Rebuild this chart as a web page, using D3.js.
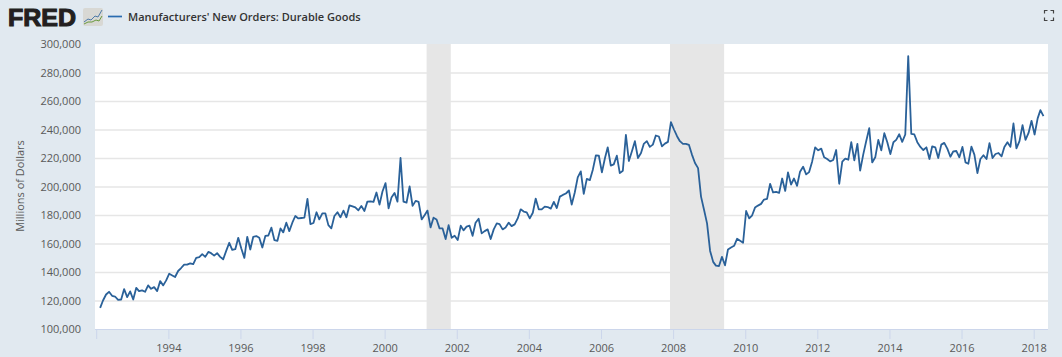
<!DOCTYPE html>
<html lang="en">
<head>
   <meta charset="UTF-8">
   <title>Manufacturers' New Orders: Durable Goods</title>
   <script src="https://cdn.jsdelivr.net/npm/d3@7"></script>
   <style>
      html, body {
         margin: 0;
         padding: 0;
         background: #e1e9f0;
         overflow: hidden;
      }
      text {
         font-family: "Open Sans", sans-serif;
         font-size: 11px;
         fill: #595959;
      }
      .grid line {
         stroke: #e6e6e6;
         stroke-width: 1.5;
      }
      .x-axis .tick line {
         stroke: #ccd6eb;
      }
      .recession {
         fill: #e6e6e6;
      }
      .series {
         fill: none;
         stroke: #2a6199;
         stroke-width: 1.8;
         stroke-linejoin: round;
      }
      .legend-text {
         font-weight: 600;
         fill: #333;
      }
      .logo {
         font-family: "Liberation Sans", sans-serif;
         font-size: 24px;
         font-weight: bold;
         fill: #231f20;
         stroke: #231f20;
         stroke-width: 1.1;
      }
   </style>
</head>
<body>
   <svg id="chart" width="1062" height="357"></svg>
   <script>
      // first month of the series, one value per month after that (millions of dollars)
      const START_MONTH = new Date(1992, 1, 1)
      const orders = [
         114800, 120000, 124200, 126100, 123300, 122800, 120500, 120700, 128000, 122400, 126400,
         120700, 128900, 126600, 127100, 126100, 130600, 128200, 129400, 126600, 133600, 130600, 134100,
         138800, 137600, 136500, 140700, 142800, 145200, 145200, 146100, 145600, 149900, 150400, 152500,
         150600, 154100, 153200, 151500, 153200, 150600, 148900, 154800, 160500, 155500, 156000, 164000,
         156500, 149900, 164700, 155800, 164700, 165200, 164000, 157200, 165400, 165600, 171100, 162400,
         161900, 170600, 167800, 174600, 168700, 174600, 179300, 177600, 177900, 178100, 191300, 173600,
         174400, 181900, 176900, 181200, 181200, 172900, 170600, 179300, 181900, 178400, 183100, 178400,
         186800, 186100, 185400, 183300, 186400, 182800, 189400, 189600, 189200, 195800, 187300, 196500,
         202400, 184700, 192200, 195500, 189400, 220000, 189400, 188700, 200000, 186400, 189900, 189200,
         176900, 180000, 183100, 171300, 178100, 176900, 170600, 170600, 163100, 172900, 164000, 165400,
         162400, 172500, 169200, 171800, 172500, 165400, 174600, 177400, 167100, 168700, 169900, 163100,
         169900, 174100, 173600, 169900, 171300, 174600, 172200, 173400, 177600, 184000, 182400, 181900,
         177600, 181600, 191500, 184000, 184000, 185900, 185600, 184500, 189200, 184900, 192900, 194100,
         195100, 197200, 187300, 195800, 206400, 210600, 194800, 205400, 204500, 211800, 221900, 221600,
         209900, 220000, 227500, 214600, 215500, 221600, 209400, 211100, 236200, 217900, 224700, 231800,
         220000, 223500, 229900, 231800, 227800, 229400, 235800, 235100, 228200, 230100, 231300, 245200,
         240000, 235300, 231800, 229900, 229900, 229200, 222400, 216500, 212900, 192900, 183500, 174100,
         154800, 147100, 144500, 144200, 150600, 144700, 155800, 157200, 158400, 163300, 161900, 160500,
         182800, 177600, 179500, 185200, 186600, 187800, 190800, 191300, 201900, 195800, 196200, 195500,
         205600, 196900, 209900, 201400, 205600, 200500, 210400, 213900, 208500, 210100, 217600, 227500,
         225400, 226600, 220500, 219300, 217600, 218600, 225600, 201900, 217400, 219500, 218800, 231100,
         218400, 229900, 211100, 222400, 231800, 240900, 216900, 220500, 232700, 225400, 237400, 231100,
         222800, 231100, 232700, 236700, 231300, 236500, 291500, 236900, 236500, 231100, 227800, 225600,
         227500, 219300, 228200, 227500, 220000, 229400, 230600, 226600, 220900, 224700, 224900, 220500,
         227800, 216900, 216000, 228000, 222400, 209400, 219300, 221900, 219300, 230400, 220000, 222800,
         223500, 221200, 227800, 231100, 227800, 244200, 226800, 231800, 243100, 232700, 237600, 246100,
         236500, 247800, 253600, 249400
      ]
      const recessions = [
         [new Date(2001, 2, 1), new Date(2001, 10, 1)],
         [new Date(2007, 11, 1), new Date(2009, 5, 1)]
      ]
      const yTicks = [100000, 120000, 140000, 160000, 180000, 200000, 220000, 240000, 260000, 280000, 300000]
      const xTickYears = [1992, 1994, 1996, 1998, 2000, 2002, 2004, 2006, 2008, 2010, 2012, 2014, 2016, 2018]

      const svg = d3.select('#chart')
      const plot = { left: 95, right: 1048, top: 44, bottom: 329 }
      // the marks sit a little right of the tick marks in the original
      const MARK_SHIFT = 0.9

      // scales
      const xScale = d3.scaleTime()
         .domain([new Date(1991, 11, 20), new Date(2018, 4, 26)])
         .range([plot.left, plot.right])

      const yScale = d3.scaleLinear()
         .domain([100000, 300000])
         .range([plot.bottom, plot.top])

      const monthOf = i => new Date(START_MONTH.getFullYear(), START_MONTH.getMonth() + i, 1)

      // plot background
      svg.append('rect')
         .attr('x', plot.left)
         .attr('y', plot.top)
         .attr('width', plot.right - plot.left)
         .attr('height', plot.bottom - plot.top)
         .attr('fill', '#fff')

      // recession bands
      svg.selectAll('.recession')
         .data(recessions)
         .enter()
         .append('rect')
         .attr('class', 'recession')
         .attr('x', d => xScale(d[0]))
         .attr('y', plot.top)
         .attr('width', d => xScale(d[1]) - xScale(d[0]))
         .attr('height', plot.bottom - plot.top)

      // y axis + gridlines
      const yAxis = d3.axisLeft(yScale)
         .tickValues(yTicks)
         .tickFormat(d3.format(','))
         .tickSize(-(plot.right - plot.left))
         .tickPadding(14)

      const yGroup = svg.append('g')
         .attr('class', 'grid')
         .attr('transform', `translate(${plot.left}, 0)`)
         .call(yAxis)
      yGroup.selectAll('.domain').remove()
      yGroup.selectAll('.tick text')
         .attr('font-size', null)
         .attr('font-family', null)
         .attr('dy', '0.36em')
      yGroup.selectAll('.tick')
         .filter(d => d === 100000 || d === 300000)
         .select('line').remove()

      svg.append('text')
         .attr('transform', `translate(24, 186) rotate(-90)`)
         .attr('text-anchor', 'middle')
         .text('Millions of Dollars')

      // x axis
      const xAxis = d3.axisBottom(xScale)
         .tickValues(xTickYears.map(y => new Date(y, 0, 1)))
         .tickFormat(d => d.getFullYear() === 1992 ? '' : d3.timeFormat('%Y')(d))
         .tickSize(10)
         .tickPadding(5)

      const xGroup = svg.append('g')
         .attr('class', 'x-axis')
         .attr('transform', `translate(0, ${plot.bottom})`)
         .call(xAxis)
      xGroup.selectAll('.tick text')
         .attr('font-size', null)
         .attr('font-family', null)
      xGroup.select('.domain')
         .attr('stroke', '#ccd6eb')
         .attr('d', `M${plot.left},0.5H${plot.right}`)

      // series
      const line = d3.line()
         .x((d, i) => xScale(monthOf(i)) + MARK_SHIFT)
         .y(d => yScale(d))

      svg.append('path')
         .datum(orders)
         .attr('class', 'series')
         .attr('d', line)

      // header: logo, small chart icon, legend
      svg.append('text')
         .attr('class', 'logo')
         .attr('x', 8)
         .attr('y', 25.5)
         .attr('textLength', 68)
         .attr('lengthAdjust', 'spacingAndGlyphs')
         .text('FRED')

      const icon = svg.append('g').attr('transform', 'translate(83, 8)')
      icon.append('rect')
         .attr('width', 20).attr('height', 18).attr('rx', 2)
         .attr('fill', '#d8d8d4')
      icon.append('path')
         .attr('d', 'M1,14 L5,11 L8,12 L12,8 L15,9 L19,2')
         .attr('fill', 'none').attr('stroke', '#4d7aa8').attr('stroke-width', 1)
      icon.append('path')
         .attr('d', 'M1,16 L5,14 L9,14 L13,12 L16,13 L19,8')
         .attr('fill', 'none').attr('stroke', '#6a9a3f').attr('stroke-width', 1)

      svg.append('line')
         .attr('x1', 108).attr('x2', 122)
         .attr('y1', 16.5).attr('y2', 16.5)
         .attr('stroke', '#2a6cb0')
         .attr('stroke-width', 1.7)

      svg.append('text')
         .attr('class', 'legend-text')
         .attr('x', 128)
         .attr('y', 21)
         .text("Manufacturers' New Orders: Durable Goods")

      // fullscreen corners, top right
      svg.append('path')
         .attr('d', 'M1044.5,13.5V10.5H1047.5 M1050.5,10.5H1053.5V13.5 M1053.5,17.5V20.5H1050.5 M1047.5,20.5H1044.5V17.5')
         .attr('fill', 'none')
         .attr('stroke', '#444')
         .attr('stroke-width', 1.2)
   </script>
</body>
</html>
